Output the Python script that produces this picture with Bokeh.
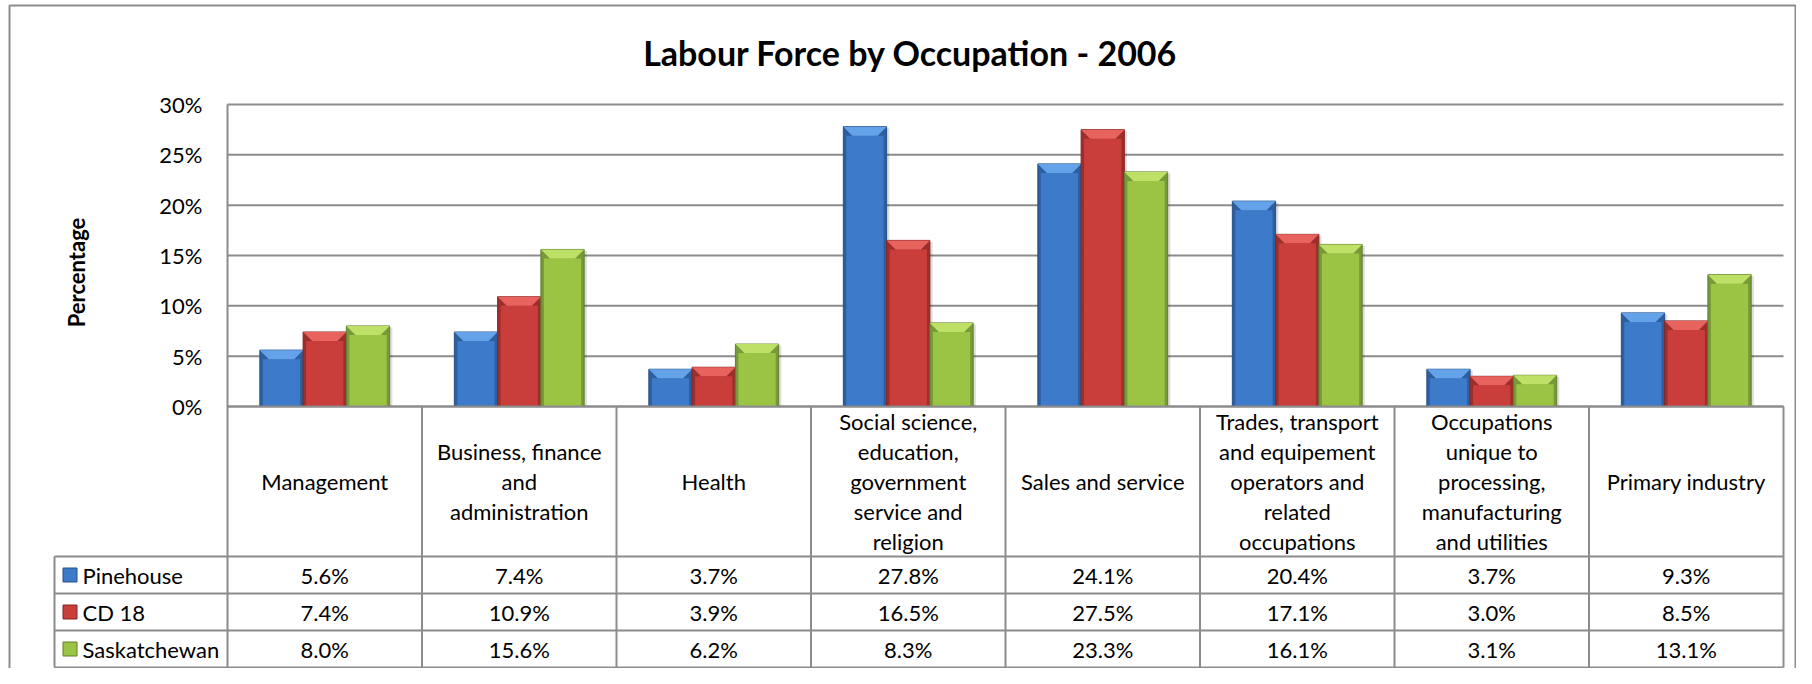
import math
from bokeh.plotting import figure
from bokeh.models import Range1d, ColumnDataSource
from bokeh.embed import file_html
from bokeh.resources import INLINE
from bokeh.core.properties import value

# ---------------- data ----------------
title_text = "Labour Force by Occupation - 2006"
y_label = "Percentage"
category_labels = [
    "Management",
    "Business, finance\nand\nadministration",
    "Health",
    "Social science,\neducation,\ngovernment\nservice and\nreligion",
    "Sales and service",
    "Trades, transport\nand equipement\noperators and\nrelated\noccupations",
    "Occupations\nunique to\nprocessing,\nmanufacturing\nand utilities",
    "Primary industry",
]
series_names = ["Pinehouse", "CD 18", "Saskatchewan"]
pinehouse = [5.6, 7.4, 3.7, 27.8, 24.1, 20.4, 3.7, 9.3]
cd18 = [7.4, 10.9, 3.9, 16.5, 27.5, 17.1, 3.0, 8.5]
saskatchewan = [8.0, 15.6, 6.2, 8.3, 23.3, 16.1, 3.1, 13.1]
y_ticks = [0, 5, 10, 15, 20, 25, 30]
tick_labels = ["0%", "5%", "10%", "15%", "20%", "25%", "30%"]

# ---------------- style / layout ----------------
FONT = "Lato"
GRID = "#8c8c8c"
BODY = ["#3d7bca", "#c93d3a", "#9bc445"]
LIGHT = ["#64a3e9", "#e8625e", "#bfe066"]
DARK = ["#2d5f9f", "#9c2f2c", "#76993a"]
EDGE = ["#24508a", "#862624", "#607f2c"]

W, H = 1796, 668          # canvas
X0, Y0 = 227.0, 406.0     # canvas px of (x=0, y=0%)
PXX = 194.5               # px per category
PPU = 302.0 / 30.0        # px per percent


def X(px):
    return (px - X0) / PXX


def Y(py):
    return (Y0 - py) / PPU


NCAT = len(category_labels)
BW = 0.2225
SIDE = 3.0 / PXX
BEV_H = 9.0 / PPU
BEV_IN = 9.0 / PXX
series = [pinehouse, cd18, saskatchewan]

p = figure(width=W, height=H,
           x_range=Range1d(X(0), X(W)),
           y_range=Range1d(Y(H), Y(0)),
           output_backend="svg", toolbar_location=None,
           x_axis_location=None, y_axis_location=None,
           min_border=0)
p.outline_line_color = None
p.grid.visible = False

FS = "22px"

# outer chart border
p.quad(left=[X(9)], right=[X(W - 1)], top=[Y(5)], bottom=[Y(H + 50)],
       fill_color=None, line_color=GRID, line_width=2)

# gridlines of the value axis
p.segment(x0=[0] * len(y_ticks), y0=y_ticks, x1=[NCAT] * len(y_ticks), y1=y_ticks,
          line_color=GRID, line_width=2)
# tick labels
p.text(x=[0] * len(y_ticks), y=y_ticks, text=tick_labels, x_offset=-25,
       text_font=value(FONT), text_font_size=FS, text_color="#000000",
       text_align="right", text_baseline="middle")
# axis title
p.text(x=[X(76)], y=[Y(272)], text=[y_label], angle=math.pi / 2,
       text_font=value(FONT), text_font_size=FS, text_font_style="bold",
       text_color="#000000", text_align="center", text_baseline="middle")
# chart title
p.text(x=[X(910)], y=[Y(52)], text=[title_text],
       text_font=value(FONT), text_font_size="34px", text_font_style="bold",
       text_color="#000000", text_align="center", text_baseline="middle")

# bars
for j, vals in enumerate(series):
    xs = [i + 0.5 + (j - 1) * BW for i in range(NCAT)]
    src = ColumnDataSource(dict(
        x=xs, top=vals,
        xs_sh=[x + 0.014 for x in xs],
        top_sh=[v - 0.15 for v in vals],
        top_in=[v - BEV_H for v in vals],
    ))
    p.vbar(x="xs_sh", top="top_sh", bottom=0, width=BW, source=src,
           fill_color="#000000", fill_alpha=0.13, line_color=None)
    p.vbar(x="x", top="top", bottom=0, width=BW, source=src,
           fill_color=DARK[j], line_color=EDGE[j], line_width=1)
    p.vbar(x="x", top="top_in", bottom=0, width=BW - 2 * SIDE, source=src,
           fill_color=BODY[j], line_color=None)
    bx, by = [], []
    for x, v in zip(xs, vals):
        bx.append([x - BW / 2, x + BW / 2, x + BW / 2 - BEV_IN, x - BW / 2 + BEV_IN])
        by.append([v, v, v - BEV_H, v - BEV_H])
    p.patches(bx, by, fill_color=LIGHT[j], line_color=None)

# ---------------- data table ----------------
row_lines = [Y(556), Y(593), Y(630), Y(667)]
table_bottom = row_lines[-1]
leg_left = X(54)

# baseline (0%) redrawn above bars
p.segment(x0=[0], y0=[0], x1=[NCAT], y1=[0], line_color=GRID, line_width=2)
# vertical separators (the first is the value axis line)
p.segment(x0=[0], y0=[30], x1=[0], y1=[table_bottom], line_color=GRID, line_width=2)
p.segment(x0=list(range(1, NCAT + 1)), y0=[0] * NCAT,
          x1=list(range(1, NCAT + 1)), y1=[table_bottom] * NCAT,
          line_color=GRID, line_width=2)
p.segment(x0=[leg_left], y0=[row_lines[0]], x1=[leg_left], y1=[table_bottom],
          line_color=GRID, line_width=2)
p.segment(x0=[leg_left] * 4, y0=row_lines, x1=[NCAT] * 4, y1=row_lines,
          line_color=GRID, line_width=2)

p.text(x=[i + 0.5 for i in range(NCAT)], y=[Y(481)] * NCAT, text=category_labels,
       text_font=value(FONT), text_font_size=FS, text_color="#000000",
       text_align="center", text_baseline="middle", text_line_height=1.12)

row_centers = [Y(574.5), Y(611.5), Y(648.5)]
for j, vals in enumerate(series):
    p.text(x=[i + 0.5 for i in range(NCAT)], y=[row_centers[j]] * NCAT,
           text=[f"{v:.1f}%" for v in vals],
           text_font=value(FONT), text_font_size=FS, text_color="#000000",
           text_align="center", text_baseline="middle")

p.rect(x=[X(69.5)] * 3, y=row_centers, width=14, height=14,
       width_units="screen", height_units="screen",
       fill_color=BODY, line_color=EDGE, line_width=1)
p.text(x=[X(82)] * 3, y=row_centers, text=series_names,
       text_font=value(FONT), text_font_size=FS, text_color="#000000",
       text_align="left", text_baseline="middle")

open("out.html", "w").write(file_html(p, INLINE))
